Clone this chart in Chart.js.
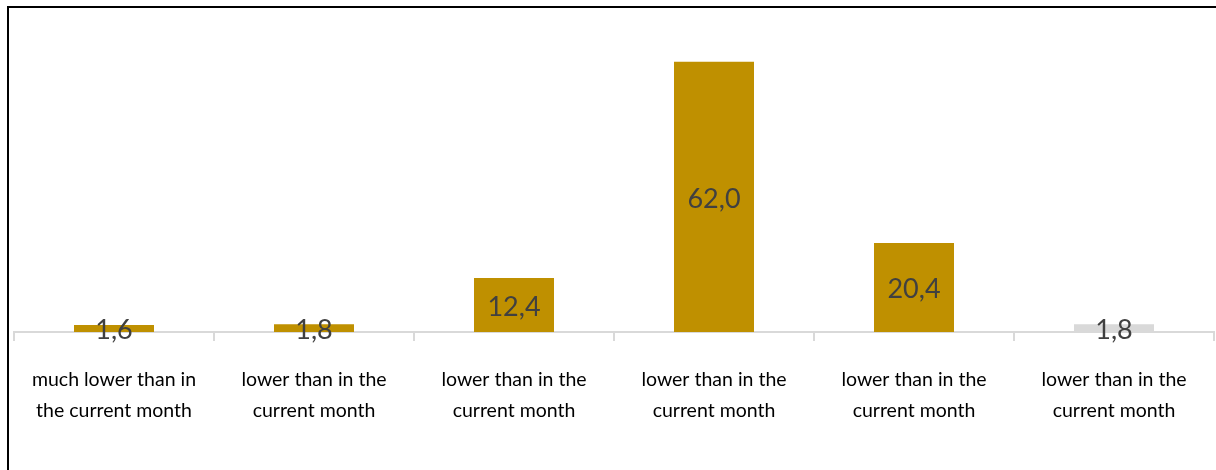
<!DOCTYPE html>
<html>
<head>
<meta charset="utf-8">
<script src="https://cdn.jsdelivr.net/npm/chart.js@4"></script>
<style>
  body { margin: 0; background: #fff; }
  #wrap { position: relative; width: 1216px; height: 470px; overflow: hidden; }
  #frame { position: absolute; left: 7px; top: 6px; width: 1300px; height: 600px;
           border-left: 2px solid #000; border-top: 2px solid #000; }
  canvas { position: absolute; left: 0; top: 0; }
</style>
</head>
<body>
<div id="wrap">
  <canvas id="chart" width="1216" height="470"></canvas>
  <div id="frame"></div>
</div>
<script>
const categories = [
  ['much lower than in', 'the current month'],
  ['lower than in the', 'current month'],
  ['lower than in the', 'current month'],
  ['lower than in the', 'current month'],
  ['lower than in the', 'current month'],
  ['lower than in the', 'current month']
];
const values = [1.6, 1.8, 12.4, 62.0, 20.4, 1.8];
const barColors = ['#bf9000', '#bf9000', '#bf9000', '#bf9000', '#bf9000', '#d9d9d9'];

const fontFamily = 'Lato, "Open Sans", sans-serif';

// value labels centred on each bar, decimal comma
const valueLabels = {
  id: 'valueLabels',
  afterDatasetsDraw(chart) {
    const ctx = chart.ctx;
    const meta = chart.getDatasetMeta(0);
    ctx.save();
    ctx.font = '27px ' + fontFamily;
    ctx.fillStyle = '#404040';
    ctx.textAlign = 'center';
    ctx.textBaseline = 'middle';
    meta.data.forEach((bar, i) => {
      const y = (bar.y + bar.base) / 2 + 2;
      ctx.fillText(values[i].toFixed(1).replace('.', ','), bar.x, y);
    });
    ctx.restore();
  }
};

new Chart(document.getElementById('chart'), {
  type: 'bar',
  data: {
    labels: categories,
    datasets: [{
      data: values,
      backgroundColor: barColors,
      borderWidth: 0,
      barPercentage: 0.4,
      categoryPercentage: 1
    }]
  },
  options: {
    responsive: false,
    animation: false,
    layout: { padding: { top: 27, left: 14, right: 2, bottom: 0 } },
    plugins: { legend: { display: false }, tooltip: { enabled: false } },
    scales: {
      y: { display: false, min: 0, max: 70 },
      x: {
        afterFit(scale) { scale.height = 138; },
        border: { color: '#d9d9d9', width: 2 },
        grid: { drawOnChartArea: false, color: '#d9d9d9', lineWidth: 2, tickLength: 9 },
        ticks: {
          color: '#000',
          padding: 24,
          maxRotation: 0,
          font: { family: fontFamily, size: 19.5, lineHeight: 1.55 }
        }
      }
    }
  },
  plugins: [valueLabels]
});
</script>
</body>
</html>
